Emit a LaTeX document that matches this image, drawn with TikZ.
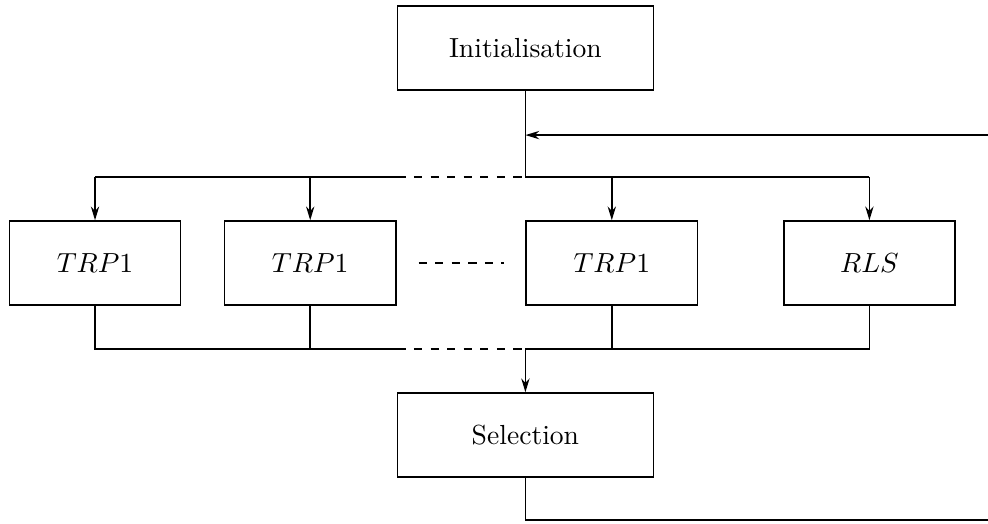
\documentclass[tikz,border=0pt]{standalone}
\usepackage{tikz}
\usetikzlibrary{arrows.meta}

\tikzset{
  stagebox/.style={draw,minimum width=3.26cm,minimum height=1.07cm,inner sep=0pt},
  solverbox/.style={draw,minimum width=2.18cm,minimum height=1.07cm,inner sep=0pt},
  flow/.style={-{Stealth[length=5pt,width=3pt]}}
}

\begin{document}
\begin{tikzpicture}[x=1cm,y=1cm,semithick]
\path[use as bounding box] (0,0) rectangle (12.58,6.66);
% stages
\node[stagebox] (init) at (6.69,6.05) {Initialisation};
\node[stagebox] (sel) at (6.69,1.12) {Selection};
\node[solverbox] (trpa) at (1.21,3.31) {$TRP1$};
\node[solverbox] (trpb) at (3.95,3.31) {$TRP1$};
\node[solverbox] (trpc) at (7.79,3.31) {$TRP1$};
\node[solverbox] (rls) at (11.07,3.31) {$RLS$};
% bus points
\coordinate (topbus) at (6.69,4.41);
\coordinate (topgap) at (5.06,4.41);
\coordinate (botbus) at (6.69,2.22);
\coordinate (botgap) at (5.06,2.22);
\coordinate (loopin) at (12.58,4.94);
\coordinate (loopout) at (12.58,0.04);
\coordinate (dotsl) at (5.33,3.31);
\coordinate (dotsr) at (6.42,3.31);
% top distribution
\draw (init) -- (topbus);
\draw[flow] (loopin) -- (init |- loopin);
\draw (topbus) -- (topbus -| rls);
\draw[dashed] (topgap) -- (topbus);
\draw (topgap) -- (topgap -| trpa);
\draw[flow] (topgap -| trpa) -- (trpa);
\draw[flow] (topgap -| trpb) -- (trpb);
\draw[flow] (topbus -| trpc) -- (trpc);
\draw[flow] (topbus -| rls) -- (rls);
\draw[dashed] (dotsl) -- (dotsr);
% bottom collection
\draw (trpa) |- (botgap);
\draw (trpb) -- (trpb |- botgap);
\draw[dashed] (botgap) -- (botbus);
\draw (rls) |- (botbus);
\draw (trpc) -- (trpc |- botbus);
\draw[flow] (botbus) -- (sel);
\draw (sel) |- (loopout);
\end{tikzpicture}
\end{document}
